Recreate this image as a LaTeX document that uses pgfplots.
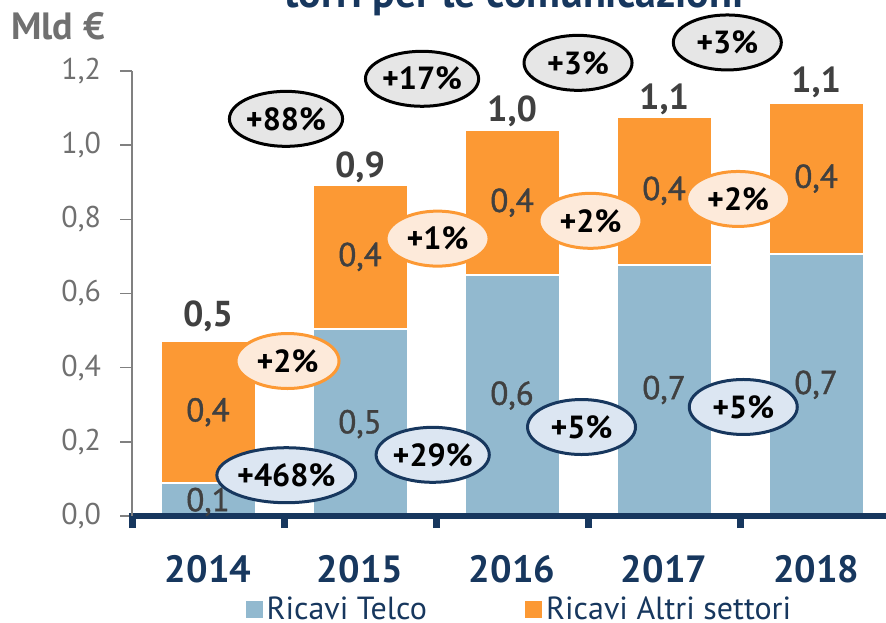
\documentclass[border=0pt]{standalone}
\usepackage{fontspec}
\setmainfont{PT Sans}
\newfontfamily\valfont[FakeBold=1.2]{PT Sans}
\usepackage{pgfplots}
\pgfplotsset{compat=1.18}
\usetikzlibrary{shapes.geometric}
\definecolor{telco}{RGB}{146,185,207}
\definecolor{altri}{RGB}{252,153,52}
\definecolor{navy}{RGB}{23,55,94}
\definecolor{tickgray}{RGB}{112,112,112}
\definecolor{lblgray}{RGB}{64,64,64}
\definecolor{fillblue}{RGB}{220,230,242}
\definecolor{fillorange}{RGB}{253,234,218}
\definecolor{fillgray}{RGB}{230,230,230}
\tikzset{
  pct/.style={ellipse, line width=1.5pt, minimum width=54pt, minimum height=27.5pt, inner sep=0pt, font=\bfseries\fontsize{16}{19}\selectfont, text=black},
  pblue/.style={pct, draw=navy, fill=fillblue},
  porange/.style={pct, draw=altri, fill=fillorange, minimum width=51.5pt},
  pgray/.style={pct, draw=black, fill=fillgray},
  val/.style={font=\valfont\fontsize{16.5}{19}\selectfont, text=lblgray},
  tot/.style={anchor=base, font=\bfseries\fontsize{18}{21}\selectfont, text=lblgray},
}
\begin{document}
\begin{tikzpicture}
\useasboundingbox (0pt,0pt) rectangle (443pt,-311pt);
\node[anchor=base, font=\bfseries\fontsize{21}{25}\selectfont, text=navy] at (257pt,-3.5pt) {torri per le comunicazioni};
\node[anchor=base west, font=\bfseries\fontsize{19}{23}\selectfont, text=tickgray, inner sep=0pt] at (5.5pt,-19.5pt) {Mld €};
\begin{axis}[
  at={(66pt,-258pt)}, anchor=south west,
  scale only axis, width=377pt, height=222.5pt,
  xmin=-0.5, xmax=4.46, ymin=0, ymax=1.2,
  enlargelimits=false, clip=false, axis on top,
  ybar stacked, bar width=47.5pt,
  axis x line*=bottom, axis y line*=left,
  x axis line style={draw=navy, line width=3pt, shorten <=-1.5pt},
  y axis line style={draw=gray, line width=0.75pt},
  tick align=outside, major tick length=6pt,
  ytick={0,0.2,0.4,0.6,0.8,1.0,1.2},
  ytick style={draw=gray, line width=0.75pt},
  yticklabel style={font=\fontsize{15}{18}\selectfont, text=tickgray, xshift=-6pt},
  /pgf/number format/.cd, fixed, fixed zerofill, precision=1, use comma, assume math mode=true,
  /pgfplots/.cd,
  xtick={-0.5,0.5,1.5,2.5,3.5},
  xticklabels={},
  xtick style={draw=navy, line width=3.5pt},
  extra x ticks={0,1,2,3,4},
  extra x tick labels={2014,2015,2016,2017,2018},
  extra x tick style={major tick length=0pt, tick label style={font=\bfseries\fontsize{19}{23}\selectfont, text=navy, yshift=-16pt}},
  legend style={at={(0.515,-0.210)}, anchor=center, draw=none, fill=none, legend columns=2,
    font=\fontsize{16}{19}\selectfont, text=navy, nodes={inner ysep=0.5pt},
    /tikz/every even column/.append style={column sep=47pt}},
  legend image code/.code={\fill[#1, draw=none] (0pt,-4.25pt) rectangle (8.5pt,4.25pt);},
  after end axis/.code={
    % segment labels
    \node[val] at (axis cs:0,0.038) {0,1};
    \node[val] at (axis cs:1,0.248) {0,5};
    \node[val] at (axis cs:2,0.325) {0,6};
    \node[val] at (axis cs:3,0.340) {0,7};
    \node[val] at (axis cs:4,0.354) {0,7};
    \node[val] at (axis cs:0,0.280) {0,4};
    \node[val] at (axis cs:1,0.699) {0,4};
    \node[val] at (axis cs:2,0.845) {0,4};
    \node[val] at (axis cs:3,0.877) {0,4};
    \node[val] at (axis cs:4,0.910) {0,4};
    % totals
    \node[tot] at (axis cs:0,0.512) {0,5};
    \node[tot] at (axis cs:1,0.912) {0,9};
    \node[tot] at (axis cs:2,1.063) {1,0};
    \node[tot] at (axis cs:3,1.095) {1,1};
    \node[tot] at (axis cs:4,1.142) {1,1};
    % growth ellipses
    \node[pgray] at (axis cs:0.513,1.071) {+88\%};
    \node[pgray] at (axis cs:1.408,1.179) {+17\%};
    \node[pgray] at (axis cs:2.434,1.222) {+3\%};
    \node[pgray] at (axis cs:3.416,1.277) {+3\%};
    \node[porange] at (axis cs:0.523,0.418) {+2\%};
    \node[porange] at (axis cs:1.510,0.748) {+1\%};
    \node[porange] at (axis cs:2.516,0.796) {+2\%};
    \node[porange] at (axis cs:3.487,0.855) {+2\%};
    \node[pblue] at (axis cs:0.515,0.110) {+468\%};
    \node[pblue] at (axis cs:1.478,0.165) {+29\%};
    \node[pblue] at (axis cs:2.457,0.240) {+5\%};
    \node[pblue] at (axis cs:3.521,0.294) {+5\%};
  },
]
\addplot[fill=telco, draw=white, line width=1pt] coordinates {(0,0.089) (1,0.504) (2,0.650) (3,0.677) (4,0.707)};
\addplot[fill=altri, draw=white, line width=1pt] coordinates {(0,0.383) (1,0.389) (2,0.391) (3,0.399) (4,0.407)};
\legend{Ricavi Telco, Ricavi Altri settori}
\end{axis}
\end{tikzpicture}
\end{document}
